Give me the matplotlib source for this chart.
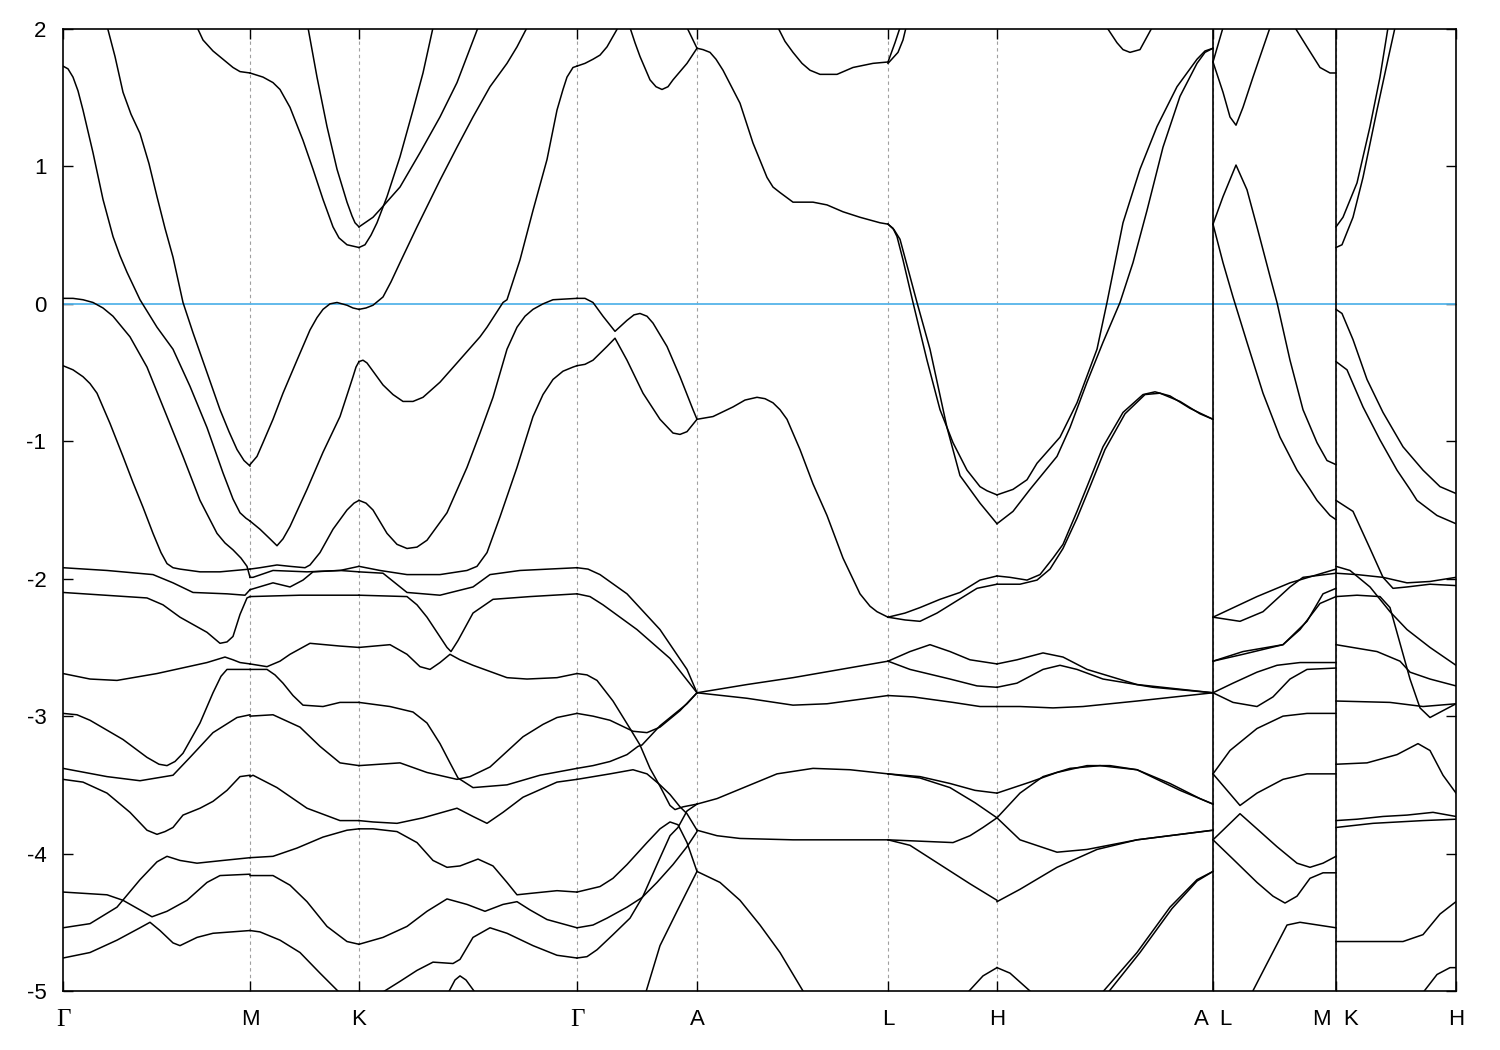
#!/usr/bin/env python3
"""
Electronic band structure along the hexagonal path
Gamma-M-K-Gamma-A-L-H-A|L-M|K-H, energies relative to E_F (eV).
"""

import matplotlib
matplotlib.use("Agg")
import matplotlib.pyplot as plt

plt.rcParams['font.family'] = ['Liberation Sans', 'DejaVu Sans']
plt.rcParams['axes.unicode_minus'] = False

# High-symmetry points along the path (path length units)
KPOINT_POS = [0.0, 1.87, 2.96, 5.14, 6.34, 8.25, 9.34, 11.50, 12.73, 13.93]
KPOINT_LABELS = ['Γ', 'M', 'K', 'Γ', 'A', 'L', 'H', 'A  L', 'M  K', 'H']
PATH_BREAKS = [11.50, 12.73]

# Bands, one list per path segment; each band is a list of (k, E) pairs
GM_BANDS = [
    [(0.43, 2.05), (0.52, 1.80), (0.60, 1.54), (0.68, 1.38), (0.77, 1.24), (0.86, 1.02), (0.94, 0.78),
     (1.02, 0.55), (1.10, 0.34), (1.20, 0.01), (1.30, -0.21), (1.44, -0.50), (1.57, -0.77), (1.66, -0.93),
     (1.74, -1.06), (1.81, -1.14), (1.87, -1.18)],
    [(0.00, 1.73), (0.05, 1.71), (0.10, 1.65), (0.15, 1.55), (0.20, 1.41), (0.30, 1.10), (0.40, 0.76),
     (0.50, 0.49), (0.57, 0.35), (0.64, 0.23), (0.77, 0.03), (0.94, -0.17), (1.10, -0.33), (1.27, -0.60),
     (1.44, -0.90), (1.60, -1.23), (1.70, -1.42), (1.77, -1.52), (1.83, -1.56), (1.87, -1.58)],
    [(0.00, 0.04), (0.10, 0.04), (0.20, 0.03), (0.30, 0.01), (0.40, -0.03), (0.50, -0.09), (0.67, -0.24),
     (0.84, -0.46), (1.04, -0.82), (1.20, -1.11), (1.37, -1.43), (1.54, -1.67), (1.62, -1.74), (1.70, -1.79),
     (1.78, -1.85), (1.84, -1.91), (1.87, -1.99)],
    [(0.00, -0.45), (0.10, -0.48), (0.20, -0.53), (0.27, -0.58), (0.34, -0.65), (0.47, -0.87), (0.60, -1.11),
     (0.70, -1.30), (0.80, -1.48), (0.90, -1.67), (0.98, -1.81), (1.04, -1.89), (1.10, -1.92), (1.17, -1.93),
     (1.37, -1.95), (1.57, -1.95), (1.87, -1.93)],
    [(0.00, -1.92), (0.44, -1.94), (0.90, -1.97), (1.10, -2.03), (1.30, -2.10), (1.64, -2.11), (1.82, -2.12),
     (1.87, -2.08)],
    [(0.00, -2.10), (0.84, -2.14), (1.00, -2.19), (1.17, -2.28), (1.44, -2.39), (1.57, -2.47), (1.64, -2.46),
     (1.70, -2.42), (1.77, -2.26), (1.84, -2.14), (1.87, -2.13)],
    [(0.00, -2.69), (0.27, -2.73), (0.54, -2.74), (0.94, -2.69), (1.44, -2.61), (1.62, -2.57), (1.70, -2.59),
     (1.77, -2.61), (1.87, -2.62)],
    [(0.00, -2.98), (0.14, -2.99), (0.27, -3.03), (0.60, -3.17), (0.84, -3.30), (0.96, -3.35), (1.04, -3.36),
     (1.12, -3.33), (1.20, -3.27), (1.37, -3.05), (1.50, -2.83), (1.58, -2.71), (1.64, -2.66), (1.77, -2.66),
     (1.87, -2.66)],
    [(0.00, -3.38), (0.44, -3.44), (0.77, -3.47), (1.10, -3.43), (1.27, -3.30), (1.50, -3.12), (1.74, -3.01),
     (1.87, -2.99)],
    [(0.00, -3.46), (0.10, -3.47), (0.20, -3.48), (0.44, -3.56), (0.67, -3.70), (0.84, -3.83), (0.94, -3.86),
     (1.02, -3.84), (1.10, -3.81), (1.20, -3.72), (1.37, -3.67), (1.50, -3.62), (1.64, -3.54), (1.77, -3.44),
     (1.87, -3.43)],
    [(0.00, -4.54), (0.27, -4.51), (0.54, -4.39), (0.77, -4.19), (0.94, -4.06), (1.04, -4.02), (1.17, -4.05),
     (1.34, -4.07), (1.60, -4.05), (1.87, -4.03)],
    [(0.00, -4.28), (0.44, -4.30), (0.60, -4.34), (0.77, -4.41), (0.89, -4.46), (1.04, -4.42), (1.24, -4.34),
     (1.44, -4.21), (1.57, -4.16), (1.87, -4.15)],
    [(0.00, -4.76), (0.27, -4.72), (0.54, -4.63), (0.77, -4.54), (0.87, -4.50), (0.97, -4.56), (1.10, -4.65),
     (1.17, -4.67), (1.34, -4.61), (1.50, -4.58), (1.87, -4.56)],
    [(1.31, 2.06), (1.40, 1.92), (1.50, 1.84), (1.60, 1.78), (1.70, 1.72), (1.77, 1.69), (1.87, 1.68)],
]

MK_BANDS = [
    [(1.87, 1.68), (2.00, 1.65), (2.10, 1.61), (2.17, 1.56), (2.27, 1.43), (2.40, 1.19), (2.50, 0.98),
     (2.60, 0.76), (2.70, 0.56), (2.76, 0.48), (2.84, 0.43), (2.96, 0.41)],
    [(2.44, 2.05), (2.54, 1.65), (2.64, 1.29), (2.74, 0.98), (2.84, 0.74), (2.89, 0.64), (2.92, 0.59),
     (2.96, 0.56)],
    [(1.87, -1.17), (1.94, -1.11), (2.00, -1.01), (2.10, -0.84), (2.20, -0.65), (2.34, -0.41), (2.47, -0.19),
     (2.54, -0.10), (2.60, -0.04), (2.67, 0.00), (2.74, 0.01), (2.84, -0.01), (2.90, -0.03), (2.96, -0.04)],
    [(1.87, -1.58), (1.97, -1.64), (2.07, -1.71), (2.14, -1.76), (2.20, -1.71), (2.27, -1.62), (2.44, -1.35),
     (2.60, -1.08), (2.77, -0.82), (2.86, -0.62), (2.90, -0.53), (2.93, -0.46), (2.96, -0.42)],
    [(1.87, -1.93), (1.97, -1.92), (2.14, -1.90), (2.27, -1.91), (2.42, -1.92), (2.47, -1.90), (2.57, -1.81),
     (2.70, -1.64), (2.84, -1.50), (2.91, -1.45), (2.96, -1.43)],
    [(1.87, -1.99), (1.90, -1.99), (2.10, -1.94), (2.44, -1.95), (2.77, -1.94), (2.96, -1.91)],
    [(1.87, -2.08), (2.10, -2.03), (2.27, -2.06), (2.40, -2.01), (2.50, -1.95), (2.77, -1.94), (2.96, -1.95)],
    [(1.87, -2.13), (2.37, -2.12), (2.96, -2.12)],
    [(1.87, -2.62), (2.04, -2.64), (2.17, -2.60), (2.27, -2.55), (2.47, -2.47), (2.77, -2.49), (2.96, -2.50)],
    [(1.87, -2.66), (2.04, -2.66), (2.12, -2.70), (2.20, -2.76), (2.30, -2.85), (2.40, -2.92), (2.60, -2.93),
     (2.77, -2.90), (2.96, -2.90)],
    [(1.87, -3.00), (2.10, -2.99), (2.37, -3.08), (2.57, -3.22), (2.77, -3.34), (2.96, -3.36)],
    [(1.87, -3.44), (1.90, -3.43), (2.14, -3.52), (2.44, -3.67), (2.77, -3.76), (2.96, -3.76)],
    [(1.87, -4.03), (2.10, -4.02), (2.34, -3.96), (2.60, -3.88), (2.84, -3.83), (2.96, -3.82)],
    [(1.87, -4.16), (2.10, -4.16), (2.27, -4.23), (2.44, -4.35), (2.64, -4.53), (2.84, -4.64), (2.96, -4.66)],
    [(1.87, -4.56), (1.97, -4.57), (2.17, -4.63), (2.37, -4.72), (2.57, -4.87), (2.79, -5.03)],
]

KG_BANDS = [
    [(2.96, 0.41), (3.02, 0.43), (3.08, 0.50), (3.14, 0.59), (3.24, 0.78), (3.37, 1.07), (3.50, 1.41),
     (3.60, 1.68), (3.70, 2.01), (3.72, 2.08)],
    [(2.96, 0.56), (3.10, 0.63), (3.20, 0.71), (3.37, 0.85), (3.57, 1.10), (3.77, 1.36), (3.94, 1.61),
     (4.15, 2.01), (4.19, 2.08)],
    [(2.96, -0.04), (3.03, -0.03), (3.10, -0.01), (3.20, 0.05), (3.28, 0.16), (3.37, 0.30), (3.54, 0.56),
     (3.77, 0.90), (3.94, 1.14), (4.10, 1.36), (4.27, 1.58), (4.44, 1.75), (4.54, 1.87), (4.64, 2.01),
     (4.68, 2.07)],
    [(2.96, -0.42), (3.00, -0.41), (3.04, -0.43), (3.12, -0.51), (3.20, -0.59), (3.30, -0.66), (3.40, -0.71),
     (3.50, -0.71), (3.60, -0.68), (3.77, -0.57), (3.94, -0.43), (4.17, -0.24), (4.24, -0.17), (4.32, -0.08),
     (4.40, 0.01), (4.44, 0.03), (4.57, 0.32), (4.70, 0.68), (4.84, 1.05), (4.94, 1.41), (5.00, 1.56),
     (5.04, 1.65), (5.10, 1.72), (5.14, 1.73)],
    [(2.96, -1.43), (3.03, -1.45), (3.10, -1.50), (3.24, -1.67), (3.34, -1.75), (3.44, -1.78), (3.54, -1.77),
     (3.64, -1.72), (3.84, -1.52), (4.04, -1.19), (4.17, -0.94), (4.30, -0.68), (4.44, -0.33), (4.54, -0.17),
     (4.62, -0.09), (4.70, -0.04), (4.80, 0.00), (4.90, 0.03), (5.14, 0.04)],
    [(2.96, -1.91), (3.17, -1.94), (3.44, -1.97), (3.77, -1.97), (4.04, -1.94), (4.14, -1.91), (4.24, -1.81),
     (4.37, -1.55), (4.54, -1.19), (4.70, -0.82), (4.80, -0.66), (4.90, -0.55), (5.00, -0.49), (5.10, -0.46),
     (5.14, -0.45)],
    [(2.96, -1.95), (3.20, -1.96), (3.32, -2.03), (3.44, -2.10), (3.77, -2.12), (4.10, -2.06), (4.27, -1.97),
     (4.57, -1.94), (5.14, -1.92)],
    [(2.96, -2.12), (3.44, -2.13), (3.54, -2.19), (3.64, -2.28), (3.84, -2.50), (3.88, -2.53), (3.95, -2.45),
     (4.10, -2.25), (4.30, -2.15), (4.67, -2.13), (5.14, -2.11)],
    [(2.96, -2.50), (3.27, -2.48), (3.44, -2.55), (3.57, -2.64), (3.67, -2.66), (3.77, -2.61), (3.87, -2.55),
     (3.97, -2.59), (4.10, -2.63), (4.44, -2.72), (4.64, -2.73), (4.94, -2.72), (5.14, -2.69)],
    [(2.96, -2.90), (3.27, -2.93), (3.50, -2.97), (3.64, -3.05), (3.77, -3.20), (3.87, -3.34), (3.95, -3.45),
     (4.10, -3.52), (4.44, -3.50), (4.77, -3.43), (5.14, -3.38)],
    [(2.96, -3.36), (3.37, -3.34), (3.64, -3.41), (3.94, -3.46), (4.07, -3.44), (4.27, -3.37), (4.60, -3.15),
     (4.80, -3.06), (4.94, -3.01), (5.14, -2.98)],
    [(2.96, -3.76), (3.10, -3.77), (3.34, -3.78), (3.60, -3.74), (3.94, -3.67), (4.10, -3.73), (4.24, -3.78),
     (4.40, -3.70), (4.60, -3.59), (4.94, -3.48), (5.14, -3.46)],
    [(2.96, -3.82), (3.10, -3.82), (3.34, -3.84), (3.54, -3.92), (3.70, -4.05), (3.84, -4.10), (3.97, -4.09),
     (4.15, -4.04), (4.30, -4.09), (4.44, -4.21), (4.54, -4.30), (4.67, -4.29), (4.94, -4.27), (5.14, -4.28)],
    [(2.96, -4.66), (3.20, -4.61), (3.44, -4.53), (3.64, -4.42), (3.84, -4.33), (4.04, -4.37), (4.22, -4.42),
     (4.40, -4.37), (4.54, -4.35), (4.67, -4.41), (4.84, -4.48), (5.14, -4.54)],
    [(3.15, -5.03), (3.37, -4.93), (3.54, -4.85), (3.70, -4.79), (3.90, -4.80), (3.97, -4.77), (4.10, -4.61),
     (4.27, -4.54), (4.44, -4.58), (4.70, -4.67), (4.94, -4.74), (5.14, -4.76)],
    [(3.84, -5.03), (3.92, -4.92), (3.97, -4.89), (4.03, -4.92), (4.14, -5.03)],
]

GA_BANDS = [
    [(5.14, 1.73), (5.22, 1.75), (5.30, 1.78), (5.37, 1.81), (5.44, 1.87), (5.55, 2.01), (5.58, 2.08)],
    [(5.65, 2.08), (5.67, 2.01), (5.72, 1.90), (5.77, 1.80), (5.87, 1.63), (5.93, 1.58), (5.99, 1.56),
     (6.05, 1.58), (6.10, 1.63), (6.24, 1.75), (6.34, 1.86)],
    [(6.20, 2.08), (6.24, 2.01), (6.34, 1.86)],
    [(5.14, 0.04), (5.22, 0.04), (5.30, 0.01), (5.40, -0.09), (5.52, -0.20), (5.58, -0.16), (5.64, -0.12),
     (5.71, -0.08), (5.77, -0.07), (5.84, -0.09), (5.90, -0.14), (6.04, -0.31), (6.17, -0.53), (6.30, -0.77),
     (6.34, -0.84)],
    [(5.14, -0.45), (5.22, -0.44), (5.30, -0.41), (5.44, -0.31), (5.52, -0.25), (5.64, -0.41), (5.80, -0.65),
     (5.97, -0.84), (6.10, -0.94), (6.17, -0.95), (6.24, -0.93), (6.34, -0.84)],
    [(5.14, -1.92), (5.25, -1.93), (5.37, -1.97), (5.64, -2.11), (5.97, -2.37), (6.24, -2.66), (6.34, -2.83)],
    [(5.14, -2.11), (5.27, -2.13), (5.40, -2.19), (5.74, -2.37), (6.07, -2.58), (6.34, -2.83)],
    [(5.14, -2.69), (5.24, -2.70), (5.34, -2.74), (5.50, -2.89), (5.67, -3.09), (5.77, -3.21), (5.87, -3.38),
     (5.97, -3.51), (6.07, -3.65), (6.12, -3.68), (6.20, -3.66), (6.34, -3.64)],
    [(5.14, -2.98), (5.30, -3.00), (5.47, -3.03), (5.70, -3.11), (5.84, -3.12), (5.97, -3.08), (6.17, -2.96),
     (6.34, -2.83)],
    [(5.14, -3.38), (5.30, -3.36), (5.47, -3.33), (5.64, -3.28), (5.75, -3.22), (5.79, -3.21), (5.97, -3.07),
     (6.24, -2.91), (6.34, -2.83)],
    [(5.14, -3.46), (5.47, -3.42), (5.70, -3.39), (5.84, -3.42), (5.97, -3.50), (6.07, -3.57), (6.17, -3.66),
     (6.24, -3.71), (6.34, -3.83)],
    [(5.14, -4.28), (5.37, -4.24), (5.50, -4.18), (5.64, -4.08), (5.84, -3.92), (5.97, -3.82), (6.07, -3.77),
     (6.15, -3.79), (6.24, -3.92), (6.34, -4.13)],
    [(5.14, -4.54), (5.30, -4.52), (5.44, -4.47), (5.64, -4.39), (5.79, -4.32), (5.94, -4.21), (6.10, -4.08),
     (6.24, -3.95), (6.34, -3.84)],
    [(5.14, -4.76), (5.24, -4.75), (5.34, -4.70), (5.50, -4.59), (5.67, -4.47), (5.80, -4.31), (5.94, -4.08),
     (6.07, -3.87), (6.15, -3.81), (6.24, -3.69), (6.34, -3.64)],
    [(5.82, -5.03), (5.97, -4.67), (6.14, -4.42), (6.34, -4.13)],
]

AL_BANDS = [
    [(6.34, 1.86), (6.40, 1.85), (6.47, 1.83), (6.53, 1.78), (6.60, 1.70), (6.77, 1.46), (6.90, 1.17),
     (7.04, 0.92), (7.10, 0.85), (7.17, 0.81), (7.30, 0.74), (7.50, 0.74), (7.64, 0.72), (7.80, 0.67),
     (7.97, 0.63), (8.17, 0.59), (8.25, 0.58)],
    [(7.12, 2.08), (7.15, 2.01), (7.22, 1.91), (7.30, 1.83), (7.39, 1.75), (7.47, 1.70), (7.57, 1.67),
     (7.74, 1.67), (7.90, 1.72), (8.10, 1.75), (8.25, 1.76)],
    [(6.34, -0.84), (6.50, -0.82), (6.70, -0.75), (6.82, -0.70), (6.94, -0.68), (7.02, -0.69), (7.10, -0.72),
     (7.17, -0.77), (7.24, -0.84), (7.37, -1.06), (7.50, -1.31), (7.64, -1.54), (7.80, -1.85), (7.97, -2.11),
     (8.07, -2.20), (8.14, -2.24), (8.25, -2.28)],
    [(6.34, -2.83), (6.84, -2.77), (7.30, -2.72), (8.25, -2.60)],
    [(6.34, -2.83), (6.84, -2.87), (7.30, -2.92), (7.64, -2.91), (8.25, -2.85)],
    [(6.34, -3.64), (6.54, -3.60), (6.84, -3.51), (7.14, -3.42), (7.50, -3.38), (7.87, -3.39), (8.25, -3.42)],
    [(6.34, -3.83), (6.54, -3.87), (6.77, -3.89), (7.30, -3.90), (8.25, -3.90)],
    [(6.34, -4.13), (6.57, -4.21), (6.77, -4.34), (6.97, -4.52), (7.17, -4.72), (7.40, -5.00), (7.43, -5.04)],
]

LH_BANDS = [
    [(8.25, 1.76), (8.32, 1.90), (8.37, 2.01), (8.39, 2.08)],
    [(8.25, 1.75), (8.35, 1.83), (8.40, 1.92), (8.43, 2.01), (8.45, 2.08)],
    [(8.25, 0.58), (8.30, 0.55), (8.34, 0.49), (8.40, 0.32), (8.50, 0.01), (8.64, -0.41), (8.77, -0.77),
     (8.90, -1.01), (9.04, -1.21), (9.17, -1.33), (9.24, -1.36), (9.34, -1.39)],
    [(8.25, 0.58), (8.31, 0.54), (8.37, 0.47), (8.47, 0.20), (8.54, 0.01), (8.67, -0.33), (8.84, -0.90),
     (8.97, -1.25), (9.04, -1.32), (9.17, -1.45), (9.34, -1.60)],
    [(8.25, -2.28), (8.42, -2.25), (8.57, -2.21), (8.77, -2.15), (8.97, -2.10), (9.17, -2.01), (9.34, -1.98)],
    [(8.25, -2.28), (8.42, -2.30), (8.57, -2.31), (8.74, -2.25), (8.94, -2.16), (9.14, -2.07), (9.34, -2.04)],
    [(8.25, -2.60), (8.47, -2.53), (8.67, -2.48), (8.87, -2.53), (9.07, -2.59), (9.34, -2.62)],
    [(8.25, -2.60), (8.47, -2.66), (8.87, -2.73), (9.14, -2.78), (9.34, -2.79)],
    [(8.25, -2.85), (8.50, -2.86), (8.90, -2.90), (9.17, -2.93), (9.34, -2.93)],
    [(8.25, -3.42), (8.57, -3.44), (8.87, -3.49), (9.12, -3.54), (9.34, -3.56)],
    [(8.25, -3.42), (8.57, -3.45), (8.87, -3.52), (9.12, -3.63), (9.34, -3.74)],
    [(8.25, -3.90), (8.90, -3.92), (9.07, -3.87), (9.20, -3.81), (9.34, -3.74)],
    [(8.25, -3.90), (8.47, -3.94), (8.77, -4.08), (9.07, -4.22), (9.34, -4.34)],
    [(9.01, -5.04), (9.20, -4.89), (9.34, -4.83)],
]

HA_BANDS = [
    [(9.34, -1.39), (9.50, -1.35), (9.64, -1.28), (9.74, -1.16), (9.97, -0.97), (10.14, -0.72), (10.34, -0.33),
     (10.44, 0.01), (10.60, 0.59), (10.77, 0.98), (10.94, 1.29), (11.14, 1.58), (11.34, 1.78), (11.42, 1.84),
     (11.50, 1.86)],
    [(9.34, -1.60), (9.50, -1.51), (9.67, -1.35), (9.94, -1.11), (10.07, -0.90), (10.24, -0.57), (10.40, -0.28),
     (10.57, 0.01), (10.70, 0.30), (10.84, 0.68), (11.00, 1.14), (11.17, 1.51), (11.34, 1.75), (11.42, 1.83),
     (11.50, 1.86)],
    [(9.34, -1.98), (9.47, -1.99), (9.64, -2.01), (9.77, -1.97), (9.90, -1.85), (10.00, -1.75), (10.14, -1.51),
     (10.24, -1.33), (10.40, -1.04), (10.60, -0.79), (10.80, -0.66), (10.92, -0.64), (11.07, -0.67),
     (11.27, -0.76), (11.50, -0.84)],
    [(9.34, -2.04), (9.57, -2.04), (9.74, -2.01), (9.87, -1.93), (10.00, -1.78), (10.14, -1.56), (10.27, -1.33),
     (10.42, -1.06), (10.62, -0.80), (10.82, -0.66), (10.97, -0.65), (11.17, -0.71), (11.37, -0.80),
     (11.50, -0.84)],
    [(9.34, -2.62), (9.54, -2.59), (9.80, -2.54), (10.00, -2.57), (10.24, -2.66), (10.74, -2.77), (11.50, -2.83)],
    [(9.34, -2.79), (9.54, -2.76), (9.80, -2.66), (9.97, -2.63), (10.14, -2.66), (10.40, -2.73), (10.90, -2.79),
     (11.50, -2.83)],
    [(9.34, -2.93), (9.57, -2.93), (9.90, -2.94), (10.20, -2.93), (10.74, -2.89), (11.50, -2.83)],
    [(9.34, -3.56), (9.67, -3.48), (9.94, -3.41), (10.24, -3.36), (10.47, -3.36), (10.74, -3.39), (11.07, -3.49),
     (11.37, -3.60), (11.50, -3.64)],
    [(9.34, -3.74), (9.57, -3.56), (9.80, -3.44), (10.07, -3.38), (10.37, -3.36), (10.74, -3.39), (11.17, -3.54),
     (11.50, -3.64)],
    [(9.34, -3.74), (9.57, -3.90), (9.94, -3.99), (10.24, -3.97), (10.74, -3.90), (11.50, -3.83)],
    [(9.34, -4.35), (9.57, -4.26), (9.94, -4.10), (10.34, -3.97), (10.74, -3.90), (11.50, -3.83)],
    [(10.37, -5.03), (10.74, -4.72), (11.07, -4.39), (11.34, -4.19), (11.50, -4.13)],
    [(10.43, -5.03), (10.77, -4.72), (11.09, -4.40), (11.34, -4.20), (11.50, -4.13)],
    [(10.42, 2.08), (10.44, 2.01), (10.54, 1.90), (10.60, 1.85), (10.67, 1.83), (10.77, 1.85), (10.89, 2.01),
     (10.91, 2.08)],
    [(9.34, -4.83), (9.47, -4.87), (9.67, -5.00), (9.71, -5.04)],
]

LM_BANDS = [
    [(11.50, 1.76), (11.60, 2.01), (11.62, 2.08)],
    [(11.50, 1.76), (11.60, 1.54), (11.67, 1.36), (11.73, 1.30), (11.80, 1.43), (11.90, 1.65), (12.07, 2.01),
     (12.10, 2.08)],
    [(12.29, 2.08), (12.32, 2.01), (12.44, 1.87), (12.57, 1.72), (12.67, 1.68), (12.73, 1.68)],
    [(11.50, 0.58), (11.60, 0.78), (11.73, 1.01), (11.84, 0.83), (11.94, 0.56), (12.07, 0.20), (12.14, 0.01),
     (12.27, -0.41), (12.40, -0.77), (12.54, -1.01), (12.64, -1.14), (12.73, -1.17)],
    [(11.50, 0.58), (11.60, 0.30), (11.70, 0.05), (11.84, -0.28), (12.00, -0.65), (12.17, -0.97), (12.34, -1.21),
     (12.47, -1.35), (12.54, -1.43), (12.67, -1.54), (12.73, -1.57)],
    [(11.50, -2.28), (11.94, -2.13), (12.27, -2.03), (12.73, -1.93)],
    [(11.50, -2.28), (11.77, -2.31), (12.00, -2.24), (12.27, -2.06), (12.40, -1.99), (12.73, -1.96)],
    [(11.50, -2.60), (11.80, -2.53), (12.20, -2.48), (12.44, -2.31), (12.60, -2.11), (12.73, -2.07)],
    [(11.50, -2.60), (11.80, -2.55), (12.20, -2.48), (12.37, -2.37), (12.57, -2.18), (12.73, -2.13)],
    [(11.50, -2.83), (11.70, -2.76), (11.94, -2.68), (12.14, -2.63), (12.37, -2.61), (12.73, -2.61)],
    [(11.50, -2.83), (11.70, -2.90), (11.94, -2.93), (12.10, -2.86), (12.27, -2.73), (12.44, -2.66),
     (12.73, -2.65)],
    [(11.50, -3.42), (11.67, -3.25), (11.94, -3.09), (12.20, -3.00), (12.44, -2.98), (12.73, -2.98)],
    [(11.50, -3.42), (11.77, -3.65), (11.94, -3.56), (12.20, -3.46), (12.44, -3.42), (12.73, -3.42)],
    [(11.50, -3.90), (11.77, -3.71), (11.94, -3.82), (12.14, -3.95), (12.34, -4.07), (12.47, -4.10),
     (12.60, -4.07), (12.73, -4.02)],
    [(11.50, -3.90), (11.70, -4.04), (11.94, -4.21), (12.10, -4.31), (12.22, -4.36), (12.34, -4.31),
     (12.47, -4.18), (12.60, -4.14), (12.73, -4.14)],
    [(11.87, -5.04), (12.04, -4.80), (12.24, -4.52), (12.37, -4.50), (12.73, -4.54)],
]

KH_BANDS = [
    [(12.73, 0.56), (12.80, 0.63), (12.94, 0.88), (13.07, 1.29), (13.17, 1.65), (13.25, 2.01), (13.27, 2.08)],
    [(12.73, 0.41), (12.79, 0.43), (12.90, 0.63), (13.00, 0.92), (13.14, 1.41), (13.25, 1.78), (13.32, 2.01),
     (13.34, 2.08)],
    [(12.73, -0.04), (12.79, -0.07), (12.90, -0.26), (13.04, -0.55), (13.20, -0.79), (13.40, -1.04),
     (13.60, -1.21), (13.77, -1.33), (13.93, -1.38)],
    [(12.73, -0.42), (12.84, -0.48), (13.00, -0.75), (13.17, -0.99), (13.34, -1.21), (13.47, -1.35),
     (13.54, -1.43), (13.74, -1.54), (13.93, -1.60)],
    [(12.73, -1.43), (12.90, -1.51), (13.07, -1.78), (13.20, -1.99), (13.30, -2.07), (13.44, -2.06),
     (13.67, -2.04), (13.93, -2.05)],
    [(12.73, -1.91), (12.87, -1.94), (13.07, -2.06), (13.27, -2.24), (13.44, -2.37), (13.67, -2.50),
     (13.93, -2.63)],
    [(12.73, -1.96), (12.94, -1.97), (13.20, -1.99), (13.44, -2.03), (13.67, -2.02), (13.93, -1.99)],
    [(12.73, -2.13), (12.94, -2.12), (13.17, -2.13), (13.27, -2.21), (13.37, -2.47), (13.47, -2.73),
     (13.57, -2.94), (13.67, -3.01), (13.80, -2.96), (13.93, -2.91)],
    [(12.73, -2.48), (13.14, -2.53), (13.37, -2.60), (13.47, -2.68), (13.67, -2.73), (13.93, -2.78)],
    [(12.73, -2.89), (13.27, -2.90), (13.60, -2.93), (13.93, -2.91)],
    [(12.73, -3.35), (13.04, -3.34), (13.34, -3.28), (13.55, -3.20), (13.67, -3.25), (13.80, -3.43),
     (13.93, -3.56)],
    [(12.73, -3.76), (12.94, -3.75), (13.20, -3.73), (13.44, -3.72), (13.70, -3.70), (13.93, -3.73)],
    [(12.73, -3.81), (13.10, -3.78), (13.60, -3.76), (13.93, -3.75)],
    [(12.73, -4.64), (13.10, -4.64), (13.40, -4.64), (13.60, -4.59), (13.77, -4.44), (13.93, -4.35)],
    [(13.57, -5.04), (13.74, -4.88), (13.87, -4.83), (13.93, -4.83)],
]

SEGMENTS = [GM_BANDS, MK_BANDS, KG_BANDS, GA_BANDS, AL_BANDS,
            LH_BANDS, HA_BANDS, LM_BANDS, KH_BANDS]

E_MIN, E_MAX = -5, 2
FERMI_COLOR = '#56B4E9'


def plot_bands(ax, bands):
    """Draw every band of one path segment as a thin black line."""
    for band in bands:
        ks = [p[0] for p in band]
        es = [p[1] for p in band]
        ax.plot(ks, es, color='black', lw=1.1, solid_joinstyle='round', zorder=3)


def main():
    fig = plt.figure(figsize=(15, 10.5), dpi=100)
    ax = fig.add_axes([63 / 1500, 1 - 991 / 1050, (1456 - 63) / 1500, (991 - 29) / 1050])

    # dashed guides at the high-symmetry points
    for k in KPOINT_POS[1:-1]:
        ax.axvline(k, color='#a0a0a0', lw=0.8, ls=(0, (3, 3)), zorder=1)

    for bands in SEGMENTS:
        plot_bands(ax, bands)

    # discontinuities of the path (A|L and M|K)
    for k in PATH_BREAKS:
        ax.axvline(k, color='black', lw=1.2, zorder=4)

    ax.axhline(0, color=FERMI_COLOR, lw=1.3, zorder=2)

    ax.set_xlim(KPOINT_POS[0], KPOINT_POS[-1])
    ax.set_ylim(E_MIN, E_MAX)
    ax.set_xticks(KPOINT_POS)
    ax.set_xticklabels(KPOINT_LABELS)
    ax.set_yticks(range(E_MIN, E_MAX + 1))
    ax.tick_params(direction='in', length=7, width=1.0, top=True, right=True,
                   labelsize=16, pad=12)
    ax.tick_params(axis='x', pad=13)
    for lbl in ax.get_xticklabels():
        if lbl.get_text() == 'Γ':
            lbl.set_fontfamily(['Liberation Serif', 'DejaVu Serif'])
            lbl.set_fontsize(18)
    for spine in ax.spines.values():
        spine.set_linewidth(1.2)

    fig.savefig('out.png', dpi=100, facecolor='white')
    plt.close(fig)


if __name__ == "__main__":
    main()
